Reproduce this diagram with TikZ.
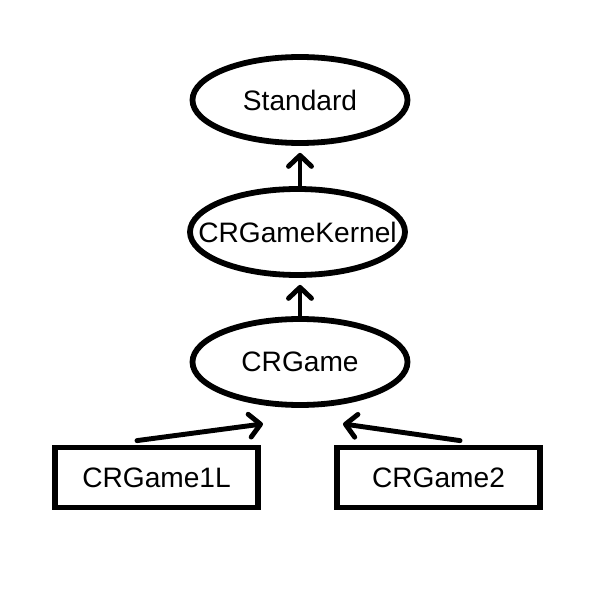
\documentclass[tikz,border=0pt]{standalone}
\usepackage{fontspec}
\setmainfont{Liberation Sans}
\usetikzlibrary{positioning, arrows.meta, shapes.geometric, calc}

\begin{document}
\begin{tikzpicture}[
    % Global Styles
    font=\fontsize{16}{19}\selectfont,
    >={Straight Barb[length=2.2mm, width=4.6mm, line cap=round, line join=round]},
    % Style for the classes drawn as ovals
    oval/.style={ellipse, draw=black, line width=3.3pt, fill=white, inner sep=0pt,
                 minimum width=4.3cm, minimum height=1.72cm},
    % Style for the leaf classes
    leaf/.style={rectangle, draw=black, line width=3.3pt, fill=white, inner sep=0pt,
                 minimum width=4.06cm, minimum height=1.2cm},
    % Style for the inheritance arrows
    link/.style={->, line width=2.8pt, line cap=round}
]

% Fixed frame (600 x 600 px)
\useasboundingbox (0,0) rectangle (12,12);

%% --- OVALS ---
\node[oval, label=center:Standard] (standard) at (6, 10) {};
\node[oval, label=center:CRGameKernel] (kernel) at (5.95, 7.36) {};
\node[oval, label=center:CRGame] (game) at (6, 4.76) {};

%% --- LEAVES ---
\node[leaf] (leafA) at (3.13, 2.45) {CRGame1L};
\node[leaf] (leafB) at (8.77, 2.45) {CRGame2};

%% --- ARROWS ---
\draw[link, shorten >=0.14cm] (kernel.north -| standard.south) -- (standard.south);
\draw[link, shorten >=0.14cm] (game.north) -- (kernel.south -| game.north);

\coordinate (tipA) at ($(game.south)+(-0.74,-0.32)$);
\coordinate (tipB) at ($(game.south)+(0.86,-0.32)$);
\draw[link] ([xshift=-0.39cm, yshift=0.08cm]leafA.north) -- (tipA);
\draw[link] ([xshift=0.43cm, yshift=0.08cm]leafB.north) -- (tipB);

\end{tikzpicture}
\end{document}
